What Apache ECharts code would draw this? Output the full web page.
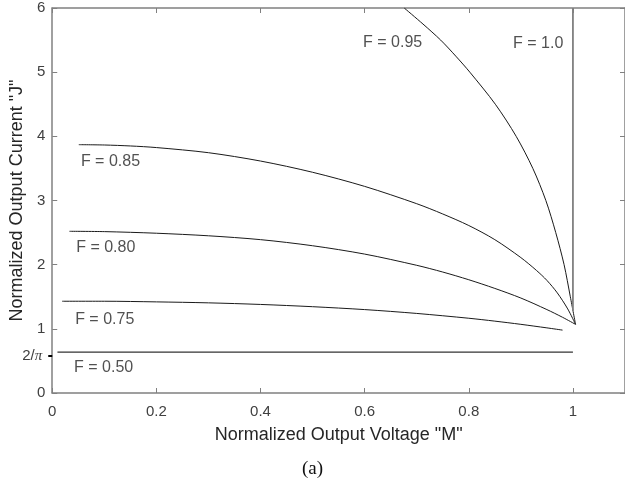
<!DOCTYPE html>
<html>
<head>
<meta charset="utf-8">
<script src="https://cdn.jsdelivr.net/npm/echarts@6/dist/echarts.min.js"></script>
<style>
html,body{margin:0;padding:0;background:#fff;}
#chart{width:625px;height:493px;}
</style>
</head>
<body>
<div id="chart"></div>
<script>
// ---- data ----
var xTicks = [0, 0.2, 0.4, 0.6, 0.8, 1];
var yTicks = [0, 1, 2, 3, 4, 5, 6];
var twoOverPiLabelPos = 0.58;   // where the "2/π" tick label is drawn
var twoOverPi = 0.6366;

var f050 = [[0.01, twoOverPi], [1.0, twoOverPi]];
var f075 = [[0.019,1.43],[0.1,1.43],[0.2,1.42],[0.3,1.405],[0.4,1.38],[0.5,1.345],[0.6,1.30],[0.7,1.24],[0.8,1.165],[0.85,1.12],[0.9,1.07],[0.95,1.015],[0.98,0.98]];
var f080 = [[0.033,2.52],[0.1,2.515],[0.2,2.49],[0.3,2.45],[0.4,2.39],[0.5,2.295],[0.6,2.165],[0.7,1.99],[0.75,1.885],[0.8,1.765],[0.85,1.63],[0.9,1.48],[0.95,1.30],[0.98,1.18],[1.005,1.07]];
var f085 = [[0.051,3.87],[0.1,3.865],[0.15,3.85],[0.2,3.825],[0.3,3.745],[0.4,3.615],[0.5,3.44],[0.6,3.22],[0.7,2.95],[0.75,2.79],[0.8,2.61],[0.85,2.39],[0.9,2.11],[0.93,1.91],[0.95,1.755],[0.97,1.56],[0.99,1.31],[1.005,1.07]];
var f095 = [[0.676,6.0],[0.712,5.75],[0.746,5.5],[0.775,5.25],[0.802,5.0],[0.851,4.5],[0.891,4.0],[0.923,3.5],[0.948,3.0],[0.967,2.5],[0.983,2.0],[0.995,1.5],[1.005,1.07]];
var f100 = [[1.0,1.28],[1.0,6.0]];

var curveLabels = [
  {text: 'F = 0.95', pos: [0.597, 5.46]},
  {text: 'F = 1.0',  pos: [0.885, 5.45]},
  {text: 'F = 0.85', pos: [0.055, 3.60]},
  {text: 'F = 0.80', pos: [0.046, 2.26]},
  {text: 'F = 0.75', pos: [0.044, 1.15]},
  {text: 'F = 0.50', pos: [0.042, 0.39]}
];

var xTitle = 'Normalized Output Voltage "M"';
var yTitle = 'Normalized Output Current "J"';
var caption = '(a)';

// ---- styles ----
var axisGray = '#808080';
var textCol = '#262626';
var sans = 'Liberation Sans, Arial, sans-serif';

var chart = echarts.init(document.getElementById('chart'), null, {renderer: 'canvas'});

function curve(name, data, color, width) {
  return {
    name: name, type: 'line', data: data, xAxisIndex: 0, yAxisIndex: 0,
    showSymbol: false, symbol: 'none', smooth: 0.3, clip: true, silent: true,
    lineStyle: {color: color, width: width}, z: 3, animation: false
  };
}

function boxLine() {
  return {show: true, onZero: false, lineStyle: {color: axisGray, width: 1.5}};
}
var tickIn = {show: true, inside: true, length: 5, lineStyle: {color: axisGray, width: 1}};

var option = {
  animation: false,
  backgroundColor: '#fff',
  grid: {left: 50, right: -2, top: 8, bottom: 100, containLabel: false},
  xAxis: [
    {
      type: 'value', position: 'bottom', min: 0, max: 1.1, interval: 0.2,
      axisLine: boxLine(), axisTick: tickIn,
      axisLabel: {show: true, margin: 11, color: '#404040', fontSize: 15, fontFamily: sans,
                  showMaxLabel: false,
                  formatter: function (v) { var r = Math.round(v*10)/10; return xTicks.indexOf(r) >= 0 ? String(r) : ''; }},
      splitLine: {show: false},
      name: xTitle, nameLocation: 'middle', nameGap: 33,
      nameTextStyle: {color: textCol, fontSize: 18, fontFamily: sans}
    },
    {
      type: 'value', position: 'top', min: 0, max: 1.1, interval: 0.2,
      axisLine: boxLine(), axisTick: tickIn,
      axisLabel: {show: false}, splitLine: {show: false}
    }
  ],
  yAxis: [
    {
      type: 'value', position: 'left', min: 0, max: 6, interval: 1,
      axisLine: boxLine(), axisTick: tickIn,
      axisLabel: {show: true, margin: 7, color: '#404040', fontSize: 15, fontFamily: sans,
                  formatter: function (v) { return yTicks.indexOf(v) >= 0 ? String(v) : ''; }},
      splitLine: {show: false},
      name: yTitle, nameLocation: 'middle', nameGap: 24,
      nameTextStyle: {color: textCol, fontSize: 18, fontFamily: sans}
    },
    {
      type: 'value', position: 'right', min: 0, max: 6, interval: 1,
      axisLine: boxLine(), axisTick: tickIn,
      axisLabel: {show: false}, splitLine: {show: false}
    },
    {
      type: 'value', position: 'left', min: 0, max: 6,
      axisLine: {show: false, onZero: false},
      axisTick: {show: true, inside: false, length: 4, customValues: [twoOverPiLabelPos],
                 lineStyle: {color: '#000', width: 2}},
      axisLabel: {show: true, margin: 10, customValues: [twoOverPiLabelPos],
                  formatter: function () { return '{a|2/}{b|π}'; },
                  rich: {a: {fontSize: 15, color: '#404040', fontFamily: sans},
                         b: {fontSize: 15, color: '#404040', fontFamily: 'Liberation Serif, serif', fontStyle: 'italic'}}},
      splitLine: {show: false}
    }
  ],
  series: [
    curve('F=0.50', f050, '#333', 1.3),
    curve('F=0.75', f075, '#1a1a1a', 1),
    curve('F=0.80', f080, '#1a1a1a', 1),
    curve('F=0.85', f085, '#1a1a1a', 1),
    curve('F=0.95', f095, '#1a1a1a', 1),
    curve('F=1.0', f100, '#808080', 1.8),
    {
      type: 'scatter', xAxisIndex: 0, yAxisIndex: 0, symbolSize: 0, silent: true, z: 5,
      data: curveLabels.map(function (d) { return {value: d.pos, name: d.text}; }),
      label: {show: true, position: 'right', distance: 0, formatter: '{b}',
              color: textCol, fontSize: 16, fontFamily: sans, align: 'left', verticalAlign: 'middle'}
    }
  ],
  graphic: [
    {type: 'text', left: 'center', top: 460,
     style: {text: caption, fill: '#111', fontSize: 19, fontFamily: 'Liberation Serif, Times New Roman, serif'}}
  ]
};
chart.setOption(option);
</script>
</body>
</html>
